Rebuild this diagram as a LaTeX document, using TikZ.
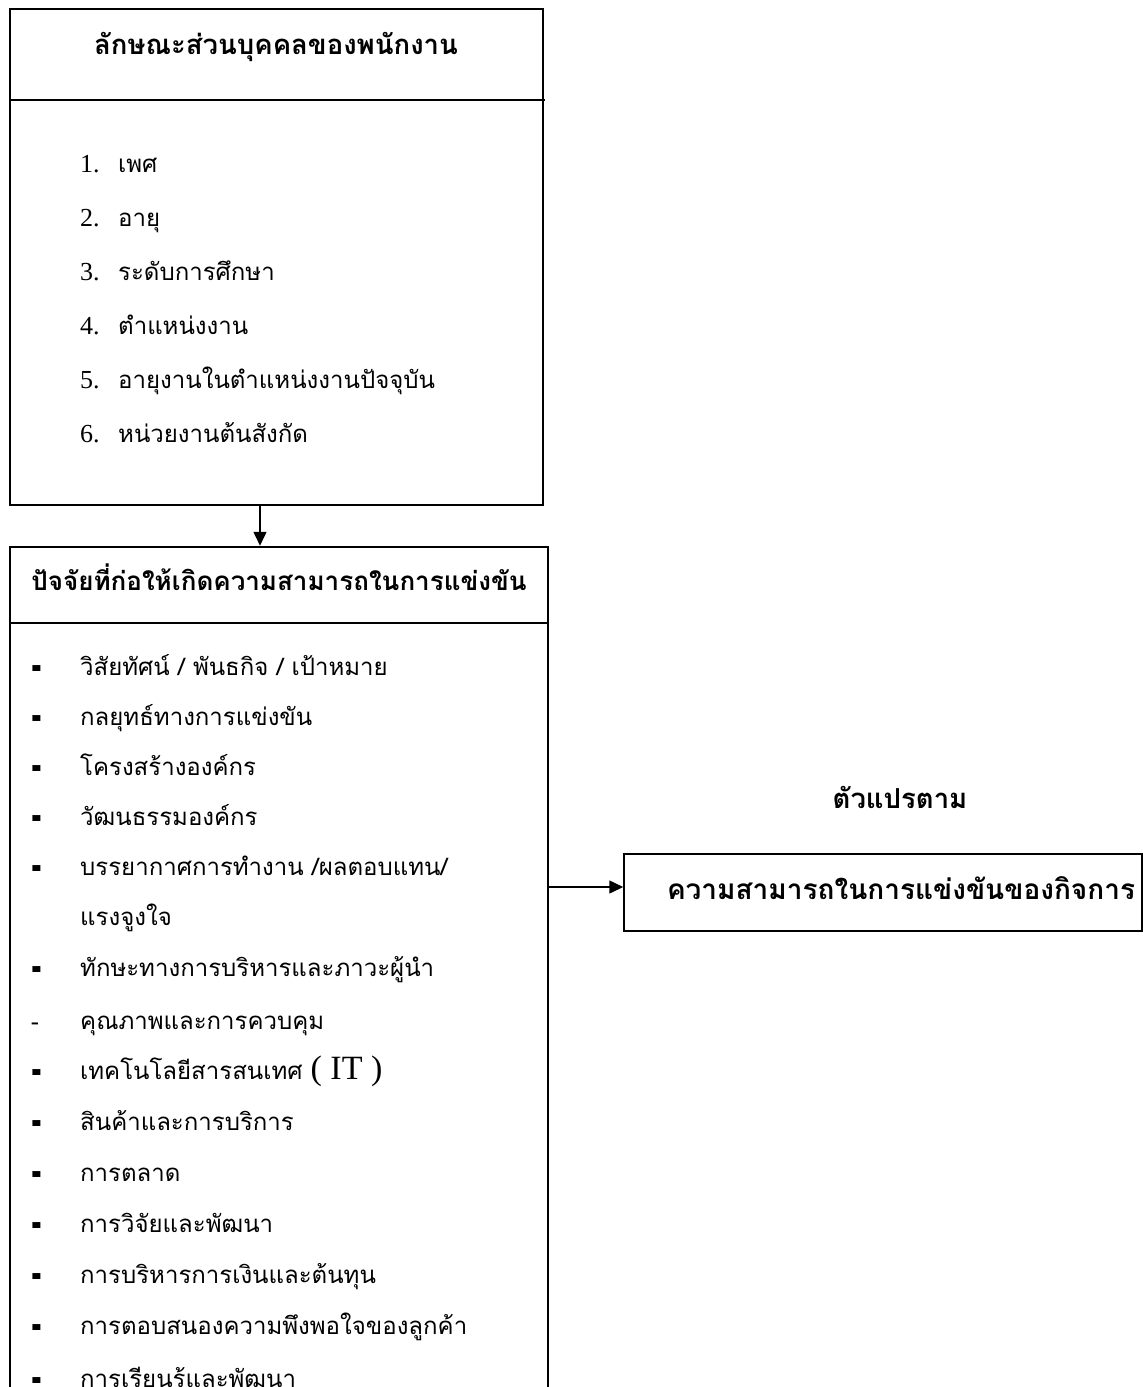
\documentclass[tikz,border=0pt]{standalone}
\usepackage{fontspec}
\setmainfont{Liberation Serif}
\newfontfamily\thaifont[Script=Thai]{Loma}
\newfontfamily\dashfont{DejaVu Sans}
\usetikzlibrary{arrows.meta,positioning}

\begin{document}
\begin{tikzpicture}[x=1pt,y=-1pt,>={Triangle[length=14pt,width=13pt]}]
	\path[use as bounding box,clip] (0,0) rectangle (1143,1387);
	\tikzset{every node/.style={inner sep=0pt}}
	\tikzset{boxstyle/.style={draw,line width=#1}}
	\tikzset{headstyle/.style={anchor=mid,font=\thaifont\bfseries\fontsize{#1}{30}\selectfont},
		headstyle/.default=27.5}
	\tikzset{itemstyle/.style={anchor=mid west,font=\thaifont\fontsize{24}{28}\selectfont}}
	\tikzset{numstyle/.style={anchor=mid west,font=\fontsize{26}{30}\selectfont}}
	\tikzset{dashstyle/.style={anchor=center,font=\dashfont\fontsize{#1}{28}\selectfont},
		dashstyle/.default=24}
	\tikzset{arrowstyle/.style={->,line width=1.5pt}}
	% boxes
	\node[boxstyle=2pt,minimum width=533pt,minimum height=496pt] (persbox) at (276.5,257) {};
	\node[boxstyle=2.5pt,minimum width=538pt,minimum height=903pt] (factbox) at (279,998.5) {};
	\node[boxstyle=1.5pt,minimum width=518pt,minimum height=77pt] (compbox) at (883,892.5) {};
	\draw[line width=2pt] (persbox.west |- 0,100) -- (545,100);
	\draw[line width=2.5pt] (factbox.west |- 0,623) -- (factbox.east |- 0,623);
	% headings
	\node[headstyle] (pershead) at (276,52) {ลักษณะส่วนบุคคลของพนักงาน};
	\node[headstyle=26] (facthead) at (279,588) {ปัจจัยที่ก่อให้เกิดความสามารถในการแข่งขัน};
	\node[headstyle] (dephead) at (900,806) {ตัวแปรตาม};
	\node[headstyle=28] (comptext) at (901,897) {ความสามารถในการแข่งขันของกิจการ};
	% personal items
	\foreach \t [count=\i from 0] in {เพศ,อายุ,ระดับการศึกษา,ตำแหน่งงาน,
		อายุงานในตำแหน่งงานปัจจุบัน,หน่วยงานต้นสังกัด} {
		\pgfmathtruncatemacro{\n}{\i+1}
		\node[numstyle] (num\i) at (80,170+54*\i) {\n.};
		\node[itemstyle] (pers\i) at (118,170+54*\i) {\t};
	}
	% factor items, b = bold dash, r = plain dash, n = none
	\foreach \y/\d/\t [count=\i] in {673/b/{วิสัยทัศน์ / พันธกิจ / เป้าหมาย},
		723/b/กลยุทธ์ทางการแข่งขัน, 773/b/โครงสร้างองค์กร, 823/b/วัฒนธรรมองค์กร,
		873/b/{บรรยากาศการทำงาน /ผลตอบแทน/}, 923/n/แรงจูงใจ,
		974/b/ทักษะทางการบริหารและภาวะผู้นำ, 1027/r/คุณภาพและการควบคุม,
		1077/b/{เทคโนโลยีสารสนเทศ {\rmfamily\fontsize{34}{40}\selectfont ( IT )}},
		1128/b/สินค้าและการบริการ, 1179/b/การตลาด, 1230/b/การวิจัยและพัฒนา,
		1281/b/การบริหารการเงินและต้นทุน, 1332/b/การตอบสนองความพึงพอใจของลูกค้า,
		1385/b/การเรียนรู้และพัฒนา} {
		\node[itemstyle] (fact\i) at (80,\y) {\t};
		\if\d b\node[dashstyle=26] (dash\i) at (37,\y) {\scalebox{1}[1.6]{\bfseries -}};\fi
		\if\d r\node[dashstyle] (dash\i) at (35,\y) {-};\fi
	}
	% connectors
	\coordinate (ax) at (260,0);
	\coordinate (ay) at (0,887);
	\draw[arrowstyle] (ax |- persbox.south) -- (ax |- factbox.north);
	\draw[arrowstyle] (factbox.east |- ay) -- (compbox.west |- ay);
\end{tikzpicture}
\end{document}
